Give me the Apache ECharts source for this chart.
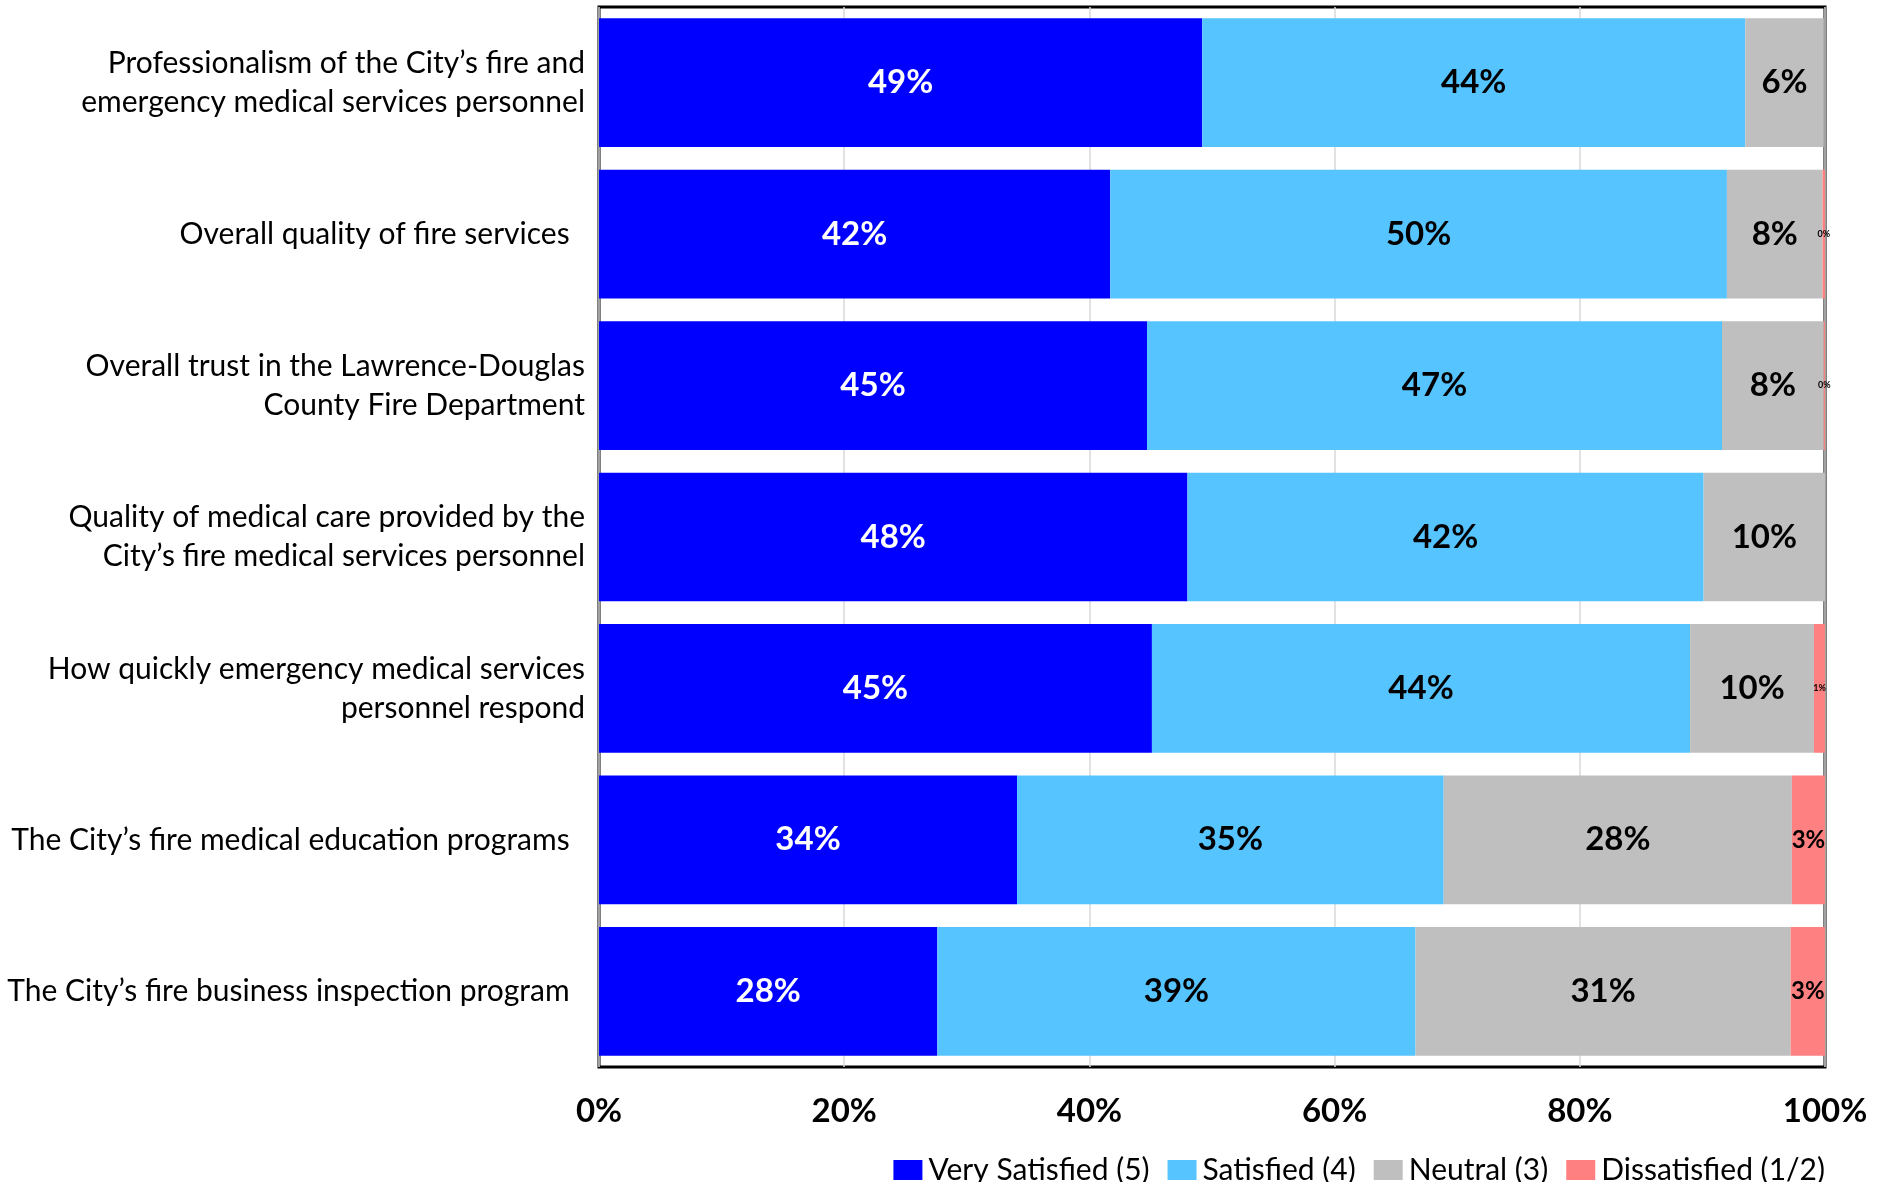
<!DOCTYPE html>
<html>
<head>
<meta charset="utf-8">
<script src="https://cdn.jsdelivr.net/npm/echarts@6/dist/echarts.min.js"></script>
<style>
  html, body { margin: 0; padding: 0; background: #fff; }
  #chart { width: 1888px; height: 1182px; }
</style>
</head>
<body>
<div id="chart"></div>
<script>
const categories = [
  'Professionalism of the City\u2019s fire and\nemergency medical services personnel',
  'Overall quality of fire services  ',
  'Overall trust in the Lawrence-Douglas\nCounty Fire Department',
  'Quality of medical care provided by the\nCity\u2019s fire medical services personnel',
  'How quickly emergency medical services\npersonnel respond',
  'The City\u2019s fire medical education programs  ',
  'The City\u2019s fire business inspection program  '
];

const verySatisfied = [49.2, 41.7, 44.7, 48.0, 45.1, 34.1, 27.6];
const satisfied     = [44.3, 50.3, 46.9, 42.1, 43.9, 34.8, 39.0];
const neutral       = [6.4, 7.8, 8.3, 9.9, 10.1, 28.4, 30.6];
const dissatisfied  = [0, 0.2, 0.1, 0, 0.9, 2.7, 2.8];

const seriesNames = ['Very Satisfied (5)', 'Satisfied (4)', 'Neutral (3)', 'Dissatisfied (1/2)'];
const xTicks = [0, 20, 40, 60, 80, 100];

const FONT = 'Lato, "Open Sans", sans-serif';

const chart = echarts.init(document.getElementById('chart'));

const makeSeries = (name, data, color, labelColor) => ({
  name,
  type: 'bar',
  stack: 'total',
  barCategoryGap: '15%',
  data,
  itemStyle: { color },
  label: {
    show: true,
    position: 'inside',
    color: labelColor,
    fontFamily: FONT,
    fontWeight: 'bold',
    fontSize: 33,
    formatter: (p) => {
      if (!p.value) return '';
      const txt = Math.round(p.value) + '%';
      if (p.value < 2) return '{tiny|' + txt + '}';
      if (p.value < 5) return '{small|' + txt + '}';
      return txt;
    },
    rich: {
      tiny: { fontSize: 9, fontWeight: 'bold', color: '#000', fontFamily: FONT },
      small: { fontSize: 24, fontWeight: 'bold', color: '#000', fontFamily: FONT }
    }
  },
  emphasis: { disabled: true }
});

const option = {
  animation: false,
  backgroundColor: '#fff',
  grid: {
    left: 599,
    right: 63,
    top: 7,
    bottom: 115,
    show: true,
    borderColor: '#000',
    borderWidth: 3,
    backgroundColor: 'transparent'
  },
  legend: {
    data: seriesNames,
    right: 58,
    top: 1150,
    itemWidth: 29,
    itemHeight: 20,
    itemGap: 18,
    icon: 'rect',
    textStyle: { fontFamily: FONT, fontSize: 30, color: '#000', padding: [0, 0, 0, 1] }
  },
  xAxis: {
    type: 'value',
    min: xTicks[0],
    max: xTicks[xTicks.length - 1],
    interval: 20,
    axisLine: { show: false },
    axisTick: { show: false },
    splitLine: { show: true, lineStyle: { color: '#D9D9D9', width: 1.5 } },
    axisLabel: {
      formatter: '{value}%',
      fontFamily: FONT,
      fontWeight: 'bold',
      fontSize: 33,
      color: '#000',
      margin: 28
    }
  },
  yAxis: {
    type: 'category',
    inverse: true,
    data: categories,
    axisLine: { show: false },
    axisTick: { show: false },
    axisLabel: {
      fontFamily: FONT,
      fontSize: 30,
      lineHeight: 39,
      color: '#000',
      margin: 14,
      verticalAlign: 'middle',
      padding: [14, 0, 0, 0]
    }
  },
  series: [
    makeSeries(seriesNames[0], verySatisfied, '#0000FF', '#fff'),
    makeSeries(seriesNames[1], satisfied, '#56C4FF', '#000'),
    makeSeries(seriesNames[2], neutral, '#BFBFBF', '#000'),
    makeSeries(seriesNames[3], dissatisfied, '#FF8080', '#000')
  ]
};

chart.setOption(option);
window.addEventListener('resize', () => chart.resize());
</script>
</body>
</html>
